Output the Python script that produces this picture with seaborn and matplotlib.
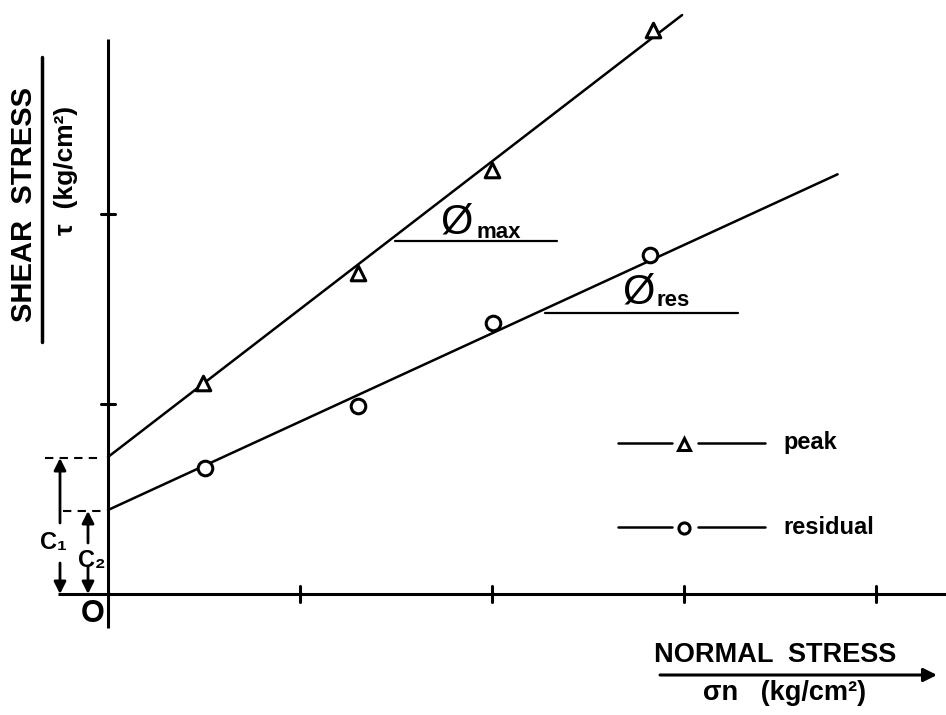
import numpy as np
import pandas as pd
import matplotlib
matplotlib.use("Agg")
import matplotlib.pyplot as plt
import matplotlib.transforms as mtransforms
import seaborn as sns

# ---- data (axis units = one tick interval) ----
peak_sigma = [0.495, 1.302, 2.000, 2.839]
peak_tau = [1.111, 1.689, 2.232, 2.968]
res_sigma = [0.505, 1.302, 2.005, 2.823]
res_tau = [0.663, 0.989, 1.426, 1.784]

c1 = 0.721            # peak cohesion intercept
tan_phi_max = 0.778   # peak slope
peak_line_end = 2.99
c2 = 0.442            # residual cohesion intercept
tan_phi_res = 0.465   # residual slope
res_line_end = 3.80

x_ticks = [1, 2, 3, 4]
y_ticks = [1, 2]

series_names = ["peak", "residual"]

# ---- theme ----
sns.set_theme(style="white")
plt.rcParams['font.family'] = ['Liberation Sans', 'DejaVu Sans']
plt.rcParams['text.color'] = 'black'

W, H = 946, 715
fig = plt.figure(figsize=(W / 100, H / 100), dpi=100)
ax = fig.add_axes([0, 0, 1, 1])

# pixel transform (top-left origin) for annotations
T = mtransforms.Affine2D().scale(1, -1).translate(0, H)

# ---- fitted envelopes ----
lines_df = pd.DataFrame({
    "sigma": [0, peak_line_end, 0, res_line_end],
    "tau": [c1, c1 + tan_phi_max * peak_line_end, c2, c2 + tan_phi_res * res_line_end],
    "series": ["peak", "peak", "residual", "residual"],
})
sns.lineplot(data=lines_df, x="sigma", y="tau", hue="series",
             palette={"peak": "black", "residual": "black"},
             legend=False, lw=1.8, ax=ax)

# ---- test points ----
peak_df = pd.DataFrame({"sigma": peak_sigma, "tau": peak_tau})
res_df = pd.DataFrame({"sigma": res_sigma, "tau": res_tau})
sns.scatterplot(data=peak_df, x="sigma", y="tau", marker="^", s=110,
                facecolors="white", edgecolor="black", linewidth=2.2, ax=ax, zorder=5)
sns.scatterplot(data=res_df, x="sigma", y="tau", marker="o", s=110,
                facecolors="white", edgecolor="black", linewidth=2.2, ax=ax, zorder=5)
ax.set_xlim(-108 / 192, (W - 108) / 192)
ax.set_ylim((594 - H) / 190, 594 / 190)
ax.axis('off')

# ---- axes drawn by hand ----
ax.plot([-0.26, (W - 108) / 192], [0, 0], color="black", lw=2.2, solid_capstyle="butt")
ax.plot([0, 0], [-0.18, 2.92], color="black", lw=2.2, solid_capstyle="butt")
for xt in x_ticks:
    ax.plot([xt, xt], [-0.04, 0.04], color="black", lw=2.2)
for yt in y_ticks:
    ax.plot([-0.035, 0.035], [yt, yt], color="black", lw=2.2)

# ---- angle markers ----
ax.plot([395, 557], [241, 241], color="black", lw=1.6, transform=T)
ax.plot([545, 738], [313, 313], color="black", lw=1.6, transform=T)
ax.text(457, 222, "Ø", transform=T, fontsize=30, ha="center", va="center")
ax.text(477, 232, "max", transform=T, fontsize=16, ha="left", va="center", fontweight="bold")
ax.text(639, 292, "Ø", transform=T, fontsize=30, ha="center", va="center")
ax.text(656, 300, "res", transform=T, fontsize=16, ha="left", va="center", fontweight="bold")

# ---- legend drawn by hand ----
for yy, mk, name in [(443, "^", "peak"), (527, "o", "residual")]:
    ax.plot([618, 672], [yy, yy], color="black", lw=1.8, transform=T)
    ax.plot([698, 765], [yy, yy], color="black", lw=1.8, transform=T)
    ax.plot([684], [yy + 1], marker=mk, ms=8, mfc="white", mec="black", mew=2.2, transform=T)
    ax.text(783, yy, name, transform=T, fontsize=17, fontweight="bold", ha="left", va="center")

# ---- cohesion intercepts ----
ax.plot([45, 102], [458, 458], color="black", lw=1.5, ls=(0, (4, 3)), transform=T)
ax.plot([63, 102], [511, 511], color="black", lw=1.5, ls=(0, (4, 3)), transform=T)
arrow_kw = dict(arrowstyle="-|>", lw=2, color="black", mutation_scale=18, shrinkA=0, shrinkB=0)
ax.annotate("", xy=(60, 458), xytext=(60, 523), xycoords=T, textcoords=T, arrowprops=arrow_kw)
ax.annotate("", xy=(60, 594), xytext=(60, 563), xycoords=T, textcoords=T, arrowprops=arrow_kw)
ax.annotate("", xy=(88, 511), xytext=(88, 543), xycoords=T, textcoords=T, arrowprops=arrow_kw)
ax.annotate("", xy=(88, 594), xytext=(88, 566), xycoords=T, textcoords=T, arrowprops=arrow_kw)
ax.text(53, 543, "C₁", transform=T, fontsize=17, ha="center", va="center", fontweight="bold")
ax.text(92, 560, "C₂", transform=T, fontsize=17, ha="center", va="center", fontweight="bold")
ax.text(93, 614, "O", transform=T, fontsize=22, ha="center", va="center", fontweight="bold")

# ---- axis titles ----
ax.text(24, 205, "SHEAR  STRESS", transform=T, fontsize=21, rotation=90,
        ha="center", va="center", fontweight="bold")
ax.plot([42, 42], [57, 342], color="black", lw=2.5, transform=T)
ax.text(66, 170, "τ  (kg/cm²)", transform=T, fontsize=19, rotation=90,
        ha="center", va="center", fontweight="bold")

ax.text(775, 655, "NORMAL  STRESS", transform=T, fontsize=19.5, ha="center", va="center",
        fontweight="bold")
ax.annotate("", xy=(937, 675), xytext=(660, 675), xycoords=T, textcoords=T,
            arrowprops=dict(arrowstyle="-|>", lw=2.2, color="black", mutation_scale=20,
                            shrinkA=0, shrinkB=0))
ax.text(785, 693, "σn   (kg/cm²)", transform=T, fontsize=19.5, ha="center", va="center",
        fontweight="bold")

fig.savefig("out.png", dpi=100, facecolor="white")
